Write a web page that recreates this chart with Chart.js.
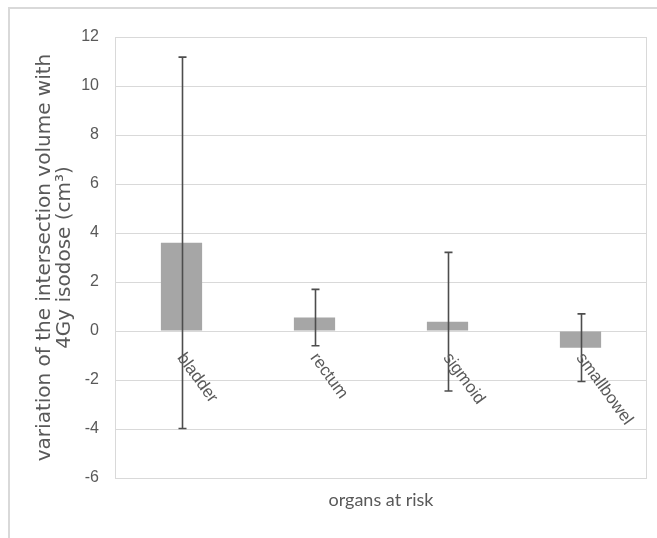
<!DOCTYPE html>
<html>
<head>
<meta charset="utf-8">
<title>organs at risk</title>
<script src="https://cdn.jsdelivr.net/npm/chart.js@4/dist/chart.umd.min.js"></script>
<style>
    html, body { margin: 0; padding: 0; background: #fff; }
    canvas { display: block; }
</style>
</head>
<body>
<canvas id="oarChart" width="657" height="538"></canvas>
<script>
// organs and mean change of the 4Gy isodose intersection volume (cm3)
const organs = ['bladder', 'rectum', 'sigmoid', 'smallbowel'];
const meanChange = [3.6, 0.55, 0.38, -0.68];
// standard deviation, drawn as symmetric error bars
const stdDev = [7.58, 1.15, 2.83, 1.38];
const yMin = -6;
const yMax = 12;
const yStep = 2;

const textGrey = '#595959';
const gridGrey = '#d9d9d9';
const sans = '"Liberation Sans", Arial, sans-serif';

// outer frame of the chart object (only top and left edges are visible)
const framePlugin = {
    id: 'frame',
    beforeDraw(chart) {
        const ctx = chart.ctx;
        ctx.save();
        ctx.strokeStyle = gridGrey;
        ctx.lineWidth = 2;
        ctx.beginPath();
        ctx.moveTo(9, chart.height);
        ctx.lineTo(9, 8);
        ctx.lineTo(chart.width, 8);
        ctx.stroke();
        ctx.restore();
    }
};

// box round the plot area
const plotBorderPlugin = {
    id: 'plotBorder',
    beforeDatasetsDraw(chart) {
        const { ctx, chartArea: a } = chart;
        ctx.save();
        ctx.strokeStyle = gridGrey;
        ctx.lineWidth = 1;
        ctx.strokeRect(a.left + 0.5, a.top + 0.5, a.right - a.left - 1, a.bottom - a.top);
        ctx.restore();
    }
};

const errorBarPlugin = {
    id: 'errorBars',
    afterDatasetsDraw(chart) {
        const ctx = chart.ctx;
        const x = chart.scales.x;
        const y = chart.scales.y;
        ctx.save();
        ctx.strokeStyle = '#4d4d4d';
        ctx.lineWidth = 1.6;
        meanChange.forEach((v, i) => {
            const px = Math.round(x.getPixelForValue(i)) + 0.5;
            const top = y.getPixelForValue(v + stdDev[i]);
            const bot = y.getPixelForValue(v - stdDev[i]);
            ctx.beginPath();
            ctx.moveTo(px, top);
            ctx.lineTo(px, bot);
            ctx.moveTo(px - 4, top);
            ctx.lineTo(px + 4, top);
            ctx.moveTo(px - 4, bot);
            ctx.lineTo(px + 4, bot);
            ctx.stroke();
        });
        ctx.restore();
    }
};

// category names sit just under the zero line, slanted downwards
const categoryLabelPlugin = {
    id: 'categoryLabels',
    afterDraw(chart) {
        const ctx = chart.ctx;
        const x = chart.scales.x;
        const y0 = chart.scales.y.getPixelForValue(0);
        ctx.save();
        ctx.fillStyle = textGrey;
        ctx.font = '17px ' + sans;
        ctx.textAlign = 'left';
        ctx.textBaseline = 'top';
        organs.forEach((name, i) => {
            ctx.save();
            ctx.translate(x.getPixelForValue(i) + 6, y0 + 19);
            ctx.rotate(54 * Math.PI / 180);
            ctx.fillText(name, 0, 0);
            ctx.restore();
        });
        ctx.restore();
    }
};

new Chart(document.getElementById('oarChart'), {
    type: 'bar',
    data: {
        labels: organs,
        datasets: [{
            data: meanChange,
            backgroundColor: '#a6a6a6',
            borderWidth: 0,
            categoryPercentage: 1,
            barPercentage: 0.31
        }]
    },
    options: {
        responsive: false,
        animation: false,
        layout: { padding: { top: 37, right: 10, left: 0, bottom: 0 } },
        plugins: {
            legend: { display: false },
            tooltip: { enabled: false }
        },
        scales: {
            x: {
                grid: { display: false },
                border: { display: false },
                ticks: { display: false },
                title: {
                    display: true,
                    text: 'organs at risk',
                    color: textGrey,
                    font: { family: 'Lato, sans-serif', size: 18 },
                    padding: { top: 0, bottom: 27 }
                },
                afterFit(scale) { scale.height = 60; }
            },
            y: {
                min: yMin,
                max: yMax,
                ticks: {
                    stepSize: yStep,
                    color: textGrey,
                    padding: 16,
                    font: { family: sans, size: 16 }
                },
                grid: { color: gridGrey, lineWidth: 1, drawTicks: false },
                border: { display: false },
                title: {
                    display: true,
                    text: ['variation of the intersection volume with', '4Gy isodose (cm\u00b3)'],
                    color: textGrey,
                    font: { family: '"DejaVu Sans", sans-serif', size: 20, lineHeight: 1.0 },
                    padding: { top: 35, bottom: 0 }
                },
                afterFit(scale) { scale.width = 115; }
            }
        }
    },
    plugins: [framePlugin, plotBorderPlugin, errorBarPlugin, categoryLabelPlugin]
});
</script>
</body>
</html>
